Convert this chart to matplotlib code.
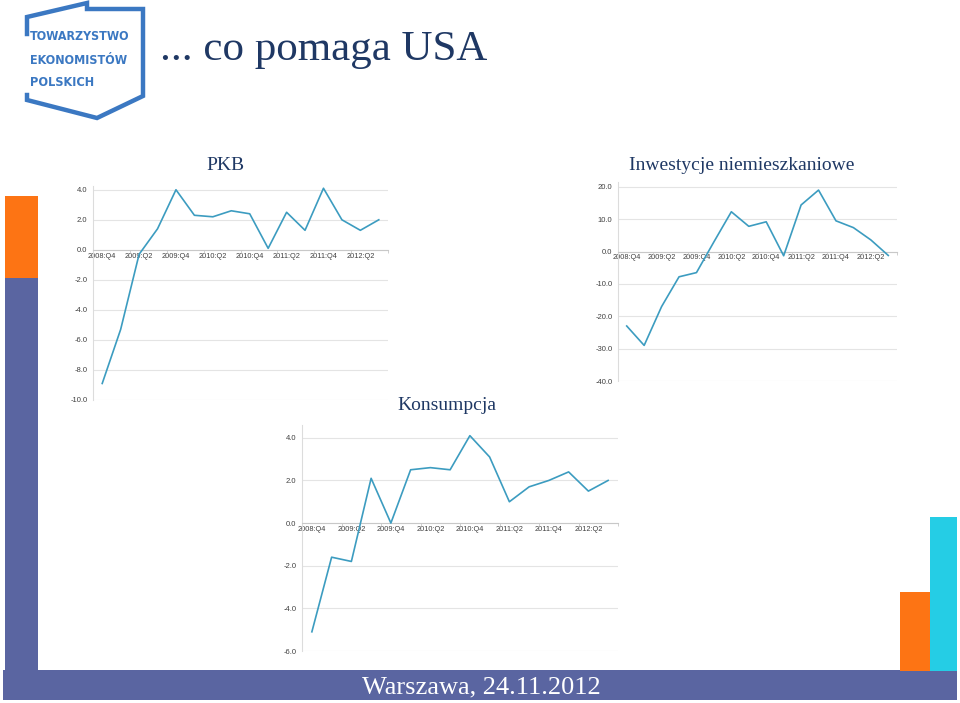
import matplotlib
matplotlib.use("Agg")
import matplotlib.pyplot as plt
from matplotlib.patches import Rectangle

plt.rcParams['axes.unicode_minus'] = False

W, H = 960, 703

# dane (USA, zmiany kwartalne, % r/r annualizowane)
quarters = ['2008:Q4', '2009:Q1', '2009:Q2', '2009:Q3', '2009:Q4',
            '2010:Q1', '2010:Q2', '2010:Q3', '2010:Q4',
            '2011:Q1', '2011:Q2', '2011:Q3', '2011:Q4',
            '2012:Q1', '2012:Q2', '2012:Q3']
pkb = [-8.9, -5.3, -0.3, 1.4, 4.0, 2.3, 2.2, 2.6, 2.4, 0.1, 2.5, 1.3, 4.1, 2.0, 1.3, 2.0]
inwestycje = [-23.0, -29.0, -17.0, -7.8, -6.5, 3.0, 12.3, 7.8, 9.2, -1.3, 14.4, 19.0, 9.5, 7.4, 3.6, -1.2]
konsumpcja = [-5.1, -1.6, -1.8, 2.1, 0.0, 2.5, 2.6, 2.5, 4.1, 3.1, 1.0, 1.7, 2.0, 2.4, 1.5, 2.0]

pkb_ticks = [4.0, 2.0, 0.0, -2.0, -4.0, -6.0, -8.0, -10.0]
inw_ticks = [20.0, 10.0, 0.0, -10.0, -20.0, -30.0, -40.0]
kons_ticks = [4.0, 2.0, 0.0, -2.0, -4.0, -6.0]

NAVY = '#1f3864'
BAND = '#5a65a1'
ORANGE = '#fd7414'
CYAN = '#25cde5'
LOGO = '#3b78c2'
LINE = '#3c9cc0'
TICK_FONT = ['Liberation Sans Narrow', 'Liberation Sans', 'DejaVu Sans']
SERIF = ['Liberation Serif', 'DejaVu Serif']


def box(x0, y0, x1, y1):
    # piksele (od gory) -> ulamki figury
    return [x0 / W, 1 - y1 / H, (x1 - x0) / W, (y1 - y0) / H]


fig = plt.figure(figsize=(W / 100, H / 100), dpi=100)
renderer = fig.canvas.get_renderer()

# tlo slajdu w pikselach
bg = fig.add_axes([0, 0, 1, 1])
bg.set_xlim(0, W)
bg.set_ylim(H, 0)
bg.axis('off')

bg.add_patch(Rectangle((5, 196), 33, 82, color=ORANGE, lw=0))
bg.add_patch(Rectangle((5, 278), 33, 393, color=BAND, lw=0))
bg.add_patch(Rectangle((3, 670), 954, 30, color=BAND, lw=0))
bg.add_patch(Rectangle((900, 592), 30, 79, color=ORANGE, lw=0))
bg.add_patch(Rectangle((930, 517), 27, 154, color=CYAN, lw=0))

# logo
bg.plot([27, 27, 87, 87, 143, 143, 97, 27, 27],
        [34, 17, 3, 9, 9, 96, 118, 100, 95],
        color=LOGO, lw=3.2, solid_joinstyle='miter')
for txt, y, wmax in [('TOWARZYSTWO', 37, 99), ('EKONOMISTÓW', 60, 97), ('POLSKICH', 82, 64)]:
    t = bg.text(30, y, txt, color=LOGO, fontsize=13, fontweight='bold',
                family=['DejaVu Sans'], fontstretch='condensed',
                ha='left', va='center')
    # zmniejsz, zeby zmiescil sie w ramce logo
    w = t.get_window_extent(renderer).width
    if w > wmax:
        t.set_fontsize(13 * wmax / w)

bg.text(160, 50, '... co pomaga USA', color=NAVY, fontsize=31,
        family=SERIF, ha='left', va='center')
bg.text(225, 165, 'PKB', color=NAVY, fontsize=14,
        family=SERIF, ha='center', va='center')
bg.text(742, 165, 'Inwestycje niemieszkaniowe', color=NAVY, fontsize=14,
        family=SERIF, ha='center', va='center')
bg.text(447, 406, 'Konsumpcja', color=NAVY, fontsize=14,
        family=SERIF, ha='center', va='center')
bg.text(481, 687, 'Warszawa, 24.11.2012', color='white', fontsize=19,
        family=SERIF, ha='center', va='center')


def line_chart(rect, values, yticks, ylim):
    ax = fig.add_axes(box(*rect))
    ax.set_facecolor('none')
    # os X na poziomie zera (przed ustawieniem tickow, bo je resetuje)
    ax.spines['bottom'].set_position(('data', 0))
    ax.spines['bottom'].set_color('#c8c8c8')
    ax.spines['bottom'].set_linewidth(0.8)
    ax.spines['left'].set_color('#dcdcdc')
    ax.spines['left'].set_linewidth(0.8)
    ax.spines['top'].set_visible(False)
    ax.spines['right'].set_visible(False)

    x = list(range(len(values)))
    ax.plot(x, values, color=LINE, lw=1.2, zorder=3)
    ax.set_xlim(-0.5, len(values) - 0.5)
    ax.set_ylim(*ylim)
    ax.set_yticks(yticks)
    ax.set_yticklabels(['%.1f' % v for v in yticks], family=TICK_FONT,
                       fontsize=5.5, color='#404040')
    ax.grid(axis='y', color='#e4e4e4', lw=0.8)
    ax.set_axisbelow(True)
    ax.set_xticks(x[::2])
    ax.set_xticklabels(quarters[::2], family=TICK_FONT, fontsize=5.3, color='#404040')
    ax.set_xticks([i + 0.5 for i in range(-1, len(values), 2)], minor=True)
    ax.tick_params(axis='x', which='major', length=0, pad=2)
    ax.tick_params(axis='x', which='minor', length=2.5, color='#c8c8c8', width=0.6)
    ax.tick_params(axis='y', length=0, pad=4)
    return ax


line_chart((93, 186, 388, 400), pkb, pkb_ticks, (-10, 4.25))
line_chart((618, 182, 897, 381), inwestycje, inw_ticks, (-40, 21.5))
line_chart((302, 425, 618, 651), konsumpcja, kons_ticks, (-6, 4.6))

fig.savefig('out.png', dpi=100)
